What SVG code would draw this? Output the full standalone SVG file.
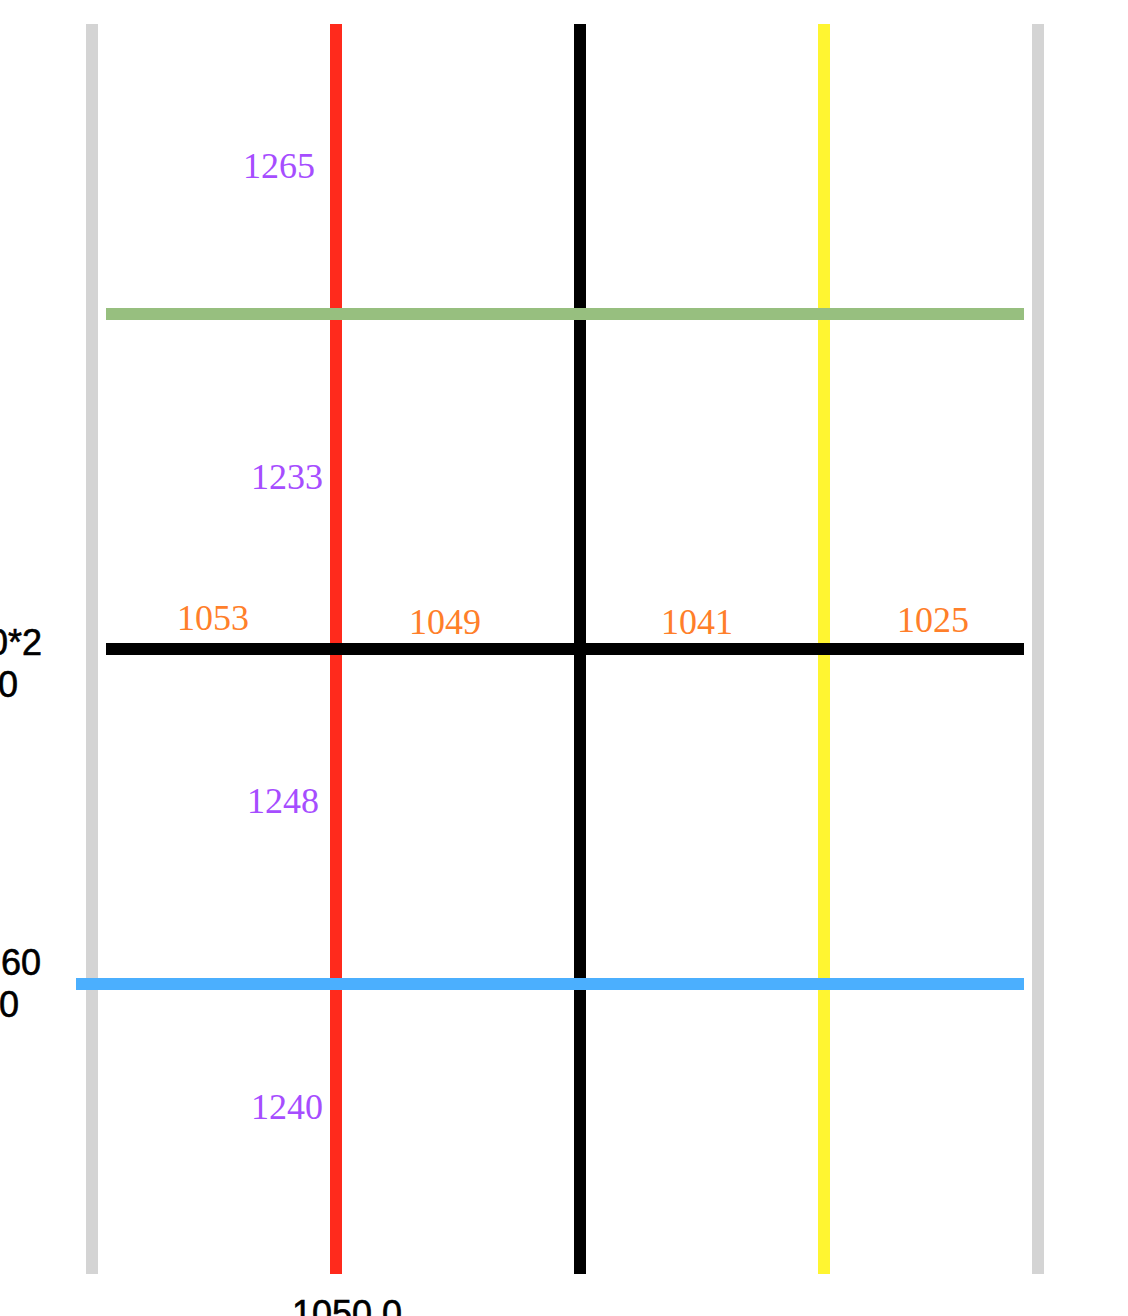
<svg xmlns="http://www.w3.org/2000/svg" width="1128" height="1316" viewBox="0 0 1128 1316">
<style>
.v{stroke-width:12;fill:none}
.h{stroke-width:12;fill:none}
.p{font-family:"Liberation Serif","Times New Roman",serif;font-size:36px;fill:#a64dff;text-anchor:end}
.o{font-family:"Liberation Serif","Times New Roman",serif;font-size:36px;fill:#ff7f2a;text-anchor:end}
.k{font-family:"Liberation Sans",Arial,sans-serif;font-size:36px;fill:#000;stroke:#000;stroke-width:0.6}
</style>
<rect width="1128" height="1316" fill="#fff"/>
<g id="connectors">
<line id="gray-left" class="v" x1="92" y1="24" x2="92" y2="1274" stroke="#d4d4d4"/>
<line id="gray-right" class="v" x1="1038" y1="24" x2="1038" y2="1274" stroke="#d4d4d4"/>
<line id="red" class="v" x1="336" y1="24" x2="336" y2="1274" stroke="#ff2a1c"/>
<line id="black-v" class="v" x1="580" y1="24" x2="580" y2="1274" stroke="#000"/>
<line id="yellow" class="v" x1="824" y1="24" x2="824" y2="1274" stroke="#fff531"/>
<line id="green" class="h" x1="106" y1="314" x2="1024" y2="314" stroke="#97bf7f" stroke-width="11"/>
<line id="black-h" class="h" x1="106" y1="649" x2="1024" y2="649" stroke="#000"/>
<line id="blue" class="h" x1="76" y1="984" x2="1024" y2="984" stroke="#4baffe"/>
</g>
<g id="labels">
<text class="p" x="315" y="178">1265</text>
<text class="p" x="323" y="489">1233</text>
<text class="p" x="319" y="813">1248</text>
<text class="p" x="323" y="1119">1240</text>
<text class="o" x="249" y="630">1053</text>
<text class="o" x="481" y="634">1049</text>
<text class="o" x="733" y="634">1041</text>
<text class="o" x="969" y="632">1025</text>
</g>
<g id="axis-labels">
<text class="k" x="42" y="655" text-anchor="end">0*2</text>
<text class="k" x="18" y="697" text-anchor="end">0</text>
<text class="k" x="41" y="975" text-anchor="end">60</text>
<text class="k" x="19" y="1017" text-anchor="end">0</text>
<text class="k" x="292" y="1326">1050.0</text>
</g>
</svg>
